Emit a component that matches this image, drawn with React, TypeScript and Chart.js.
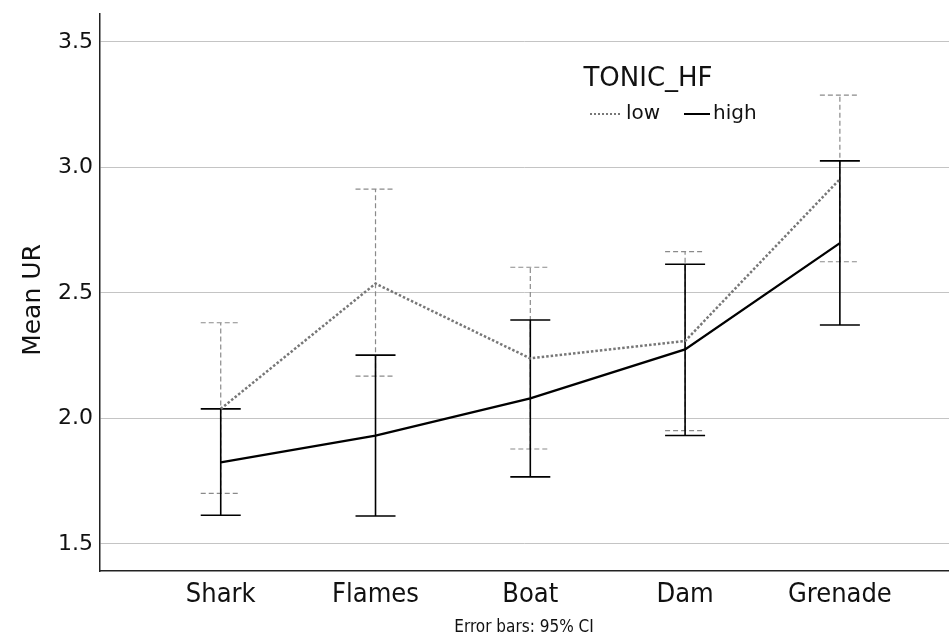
import React, { useEffect, useRef } from "react";
import { Chart, registerables } from "chart.js";

Chart.register(...registerables);

const categories = ["Shark", "Flames", "Boat", "Dam", "Grenade"];
const lowMean = [2.038, 2.537, 2.239, 2.308, 2.953];
const lowUpper = [2.381, 2.913, 2.602, 2.664, 3.288];
const lowLower = [1.701, 2.168, 1.878, 1.951, 2.624];
const highMean = [1.825, 1.931, 2.08, 2.275, 2.698];
const highUpper = [2.038, 2.252, 2.392, 2.614, 3.026];
const highLower = [1.614, 1.611, 1.767, 1.932, 2.372];
const yTicks = [1.5, 2.0, 2.5, 3.0, 3.5];
const legendTitle = "TONIC_HF";
const seriesNames = ["low", "high"];
const yTitle = "Mean UR";
const footnote = "Error bars: 95% CI";

const SANS = "'DejaVu Sans', sans-serif";
const COND = "'DejaVu Sans Condensed', 'Liberation Sans Narrow', 'DejaVu Sans', sans-serif";
const LOW_COLOR = "#777777";
const HIGH_COLOR = "#000000";

const overlayPlugin = {
  id: "overlay",
  beforeDatasetsDraw(chart: any) {
    const ctx = chart.ctx;
    const xs = chart.scales.x;
    const ys = chart.scales.y;
    const drawBars = (lo: number[], hi: number[], color: string, width: number, dash: number[]) => {
      ctx.save();
      ctx.strokeStyle = color;
      ctx.lineWidth = width;
      ctx.setLineDash(dash);
      const half = 20;
      lo.forEach((l, i) => {
        const x = xs.getPixelForValue(i);
        const yl = ys.getPixelForValue(l);
        const yh = ys.getPixelForValue(hi[i]);
        ctx.beginPath();
        ctx.moveTo(x, yl);
        ctx.lineTo(x, yh);
        ctx.moveTo(x - half, yl);
        ctx.lineTo(x + half, yl);
        ctx.moveTo(x - half, yh);
        ctx.lineTo(x + half, yh);
        ctx.stroke();
      });
      ctx.restore();
    };
    drawBars(lowLower, lowUpper, "#8a8a8a", 1.2, [5, 3]);
    drawBars(highLower, highUpper, HIGH_COLOR, 1.6, []);
  },
  afterDraw(chart: any) {
    const ctx = chart.ctx;
    ctx.save();
    ctx.fillStyle = "#111";
    ctx.font = `25px ${SANS}`;
    ctx.textAlign = "center";
    ctx.textBaseline = "middle";
    ctx.save();
    ctx.translate(33, 300);
    ctx.rotate(-Math.PI / 2);
    ctx.fillText(yTitle, 0, 0);
    ctx.restore();
    ctx.font = `17px ${COND}`;
    ctx.fillText(footnote, 524, 628);
    ctx.font = `26px ${SANS}`;
    ctx.fillText(legendTitle, 648, 79);
    ctx.font = `20px ${SANS}`;
    ctx.textAlign = "left";
    const ly = 114;
    ctx.strokeStyle = LOW_COLOR;
    ctx.lineWidth = 2;
    ctx.setLineDash([2, 2]);
    ctx.beginPath();
    ctx.moveTo(590, ly);
    ctx.lineTo(622, ly);
    ctx.stroke();
    ctx.fillText(seriesNames[0], 626, ly);
    ctx.strokeStyle = HIGH_COLOR;
    ctx.setLineDash([]);
    ctx.beginPath();
    ctx.moveTo(684, ly);
    ctx.lineTo(710, ly);
    ctx.stroke();
    ctx.fillText(seriesNames[1], 713, ly);
    ctx.restore();
  },
};

export default function App() {
  const ref = useRef<HTMLCanvasElement | null>(null);
  useEffect(() => {
    if (!ref.current) return;
    const chart = new Chart(ref.current, {
      type: "line",
      data: {
        datasets: [
          {
            label: seriesNames[0],
            data: lowMean.map((v, i) => ({ x: i, y: v })),
            borderColor: LOW_COLOR,
            borderWidth: 2.5,
            borderDash: [2.5, 2],
            pointRadius: 0,
            fill: false,
            tension: 0,
          },
          {
            label: seriesNames[1],
            data: highMean.map((v, i) => ({ x: i, y: v })),
            borderColor: HIGH_COLOR,
            borderWidth: 2.3,
            pointRadius: 0,
            fill: false,
            tension: 0,
          },
        ],
      },
      options: {
        animation: false,
        responsive: false,
        devicePixelRatio: 1,
        layout: { padding: { top: 14, right: 0, left: 0, bottom: 0 } },
        plugins: { legend: { display: false }, tooltip: { enabled: false } },
        scales: {
          x: {
            type: "linear",
            min: -0.78,
            max: 4.705,
            afterBuildTicks: (s: any) => {
              s.ticks = categories.map((_, i) => ({ value: i }));
            },
            afterFit: (s: any) => {
              s.height = 68;
              s.paddingLeft = 0;
              s.paddingRight = 0;
            },
            grid: { display: false, drawTicks: false },
            border: { display: true, color: "#222", width: 1.5 },
            ticks: {
              autoSkip: false,
              maxRotation: 0,
              padding: 8,
              color: "#111",
              font: { family: COND, size: 27 },
              callback: (v: any) => categories[Math.round(Number(v))] ?? "",
            },
          },
          y: {
            type: "linear",
            min: 1.392,
            max: 3.611,
            afterBuildTicks: (s: any) => {
              s.ticks = yTicks.map((v) => ({ value: v }));
            },
            afterFit: (s: any) => {
              s.width = 100;
              s.paddingTop = 0;
              s.paddingBottom = 0;
            },
            grid: { color: "#c4c4c4", lineWidth: 1, drawTicks: false },
            border: { display: true, color: "#222", width: 1.5 },
            ticks: {
              padding: 7,
              color: "#111",
              font: { family: SANS, size: 22 },
              callback: (v: any) => Number(v).toFixed(1),
            },
          },
        },
      },
      plugins: [overlayPlugin],
    });
    return () => chart.destroy();
  }, []);
  return (
    <div style={{ position: "fixed", left: 0, top: 0, width: 949, height: 639, background: "#fff" }}>
      <canvas ref={ref} width={949} height={639} />
    </div>
  );
}
